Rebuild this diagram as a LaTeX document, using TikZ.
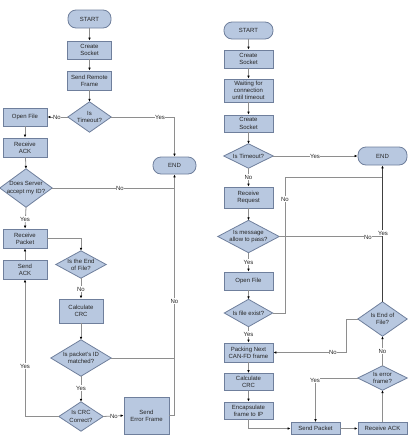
\documentclass[tikz,border=0pt]{standalone}
\usepackage{fontspec}
\setmainfont{Liberation Sans}
\usetikzlibrary{arrows.meta}
\definecolor{boxfill}{HTML}{B8C8E0}
\definecolor{boxline}{HTML}{6F7F9C}
\definecolor{connc}{HTML}{8E8E8E}
\tikzset{
  txt/.style={font=\fontsize{6}{7.2}\selectfont, text=black!85, align=center, inner sep=0pt},
  proc/.style={txt, draw=boxline, fill=boxfill, line width=0.8pt},
  term/.style={proc, rounded corners=8pt},
  dbase/.style={inner sep=0pt},
  dshape/.style={draw=boxline, fill=boxfill, line width=0.8pt},
  ln/.style={draw=connc, line width=0.8pt},
  arr/.style={ln, -{Latex[length=3pt,width=2.6pt,color=black]}},
  lab/.style={txt, fill=white, inner sep=0.6pt},
}
\newcommand\decision[5]{%
  \node[dbase, minimum width=#3pt, minimum height=#4pt] (#1) at (#2) {};
  \draw[dshape] (#1.north) -- (#1.east) -- (#1.south) -- (#1.west) -- cycle;
  \node[txt] (#1-t) at (#1.center) {#5};}
\begin{document}
\begin{tikzpicture}[x=1pt, y=-1pt]
\useasboundingbox (0,0) rectangle (411,445);
% ---------------- left chart ----------------
\node[term, minimum width=43pt, minimum height=18pt] (startL) at (89.5,19) {START};
\node[proc, minimum width=44pt, minimum height=18pt] (csL) at (89.5,50) {Create\\Socket};
\node[proc, minimum width=44pt, minimum height=19pt] (srf) at (89.5,80.5) {Send Remote\\Frame};
\decision{toL}{89.5,117}{43}{30}{Is\\Timeout?}
\node[proc, minimum width=44pt, minimum height=18pt] (openL) at (25,117) {Open File};
\node[proc, minimum width=44pt, minimum height=19pt] (rackL) at (25,147.5) {Receive\\ACK};
\node[term, minimum width=43pt, minimum height=17pt] (endL) at (174.5,165.5) {END};
\decision{dsL}{26,188}{52}{38}{Does Server\\accept my ID?}
\node[proc, minimum width=44pt, minimum height=19pt] (rpL) at (25,238.5) {Receive\\Packet};
\node[proc, minimum width=44pt, minimum height=19pt] (sackL) at (25,269.5) {Send\\ACK};
\decision{eofL}{81,264.5}{50}{27}{Is the End\\of File?}
\node[proc, minimum width=44pt, minimum height=24pt] (calcL) at (81,311) {Calculate\\CRC};
\decision{pidL}{81,358}{60}{36}{Is packet's ID\\matched?}
\decision{crcL}{81,416.5}{44}{29}{Is CRC\\Correct?}
\node[proc, minimum width=45pt, minimum height=37pt] (sefL) at (146.5,415.5) {Send\\Error Frame};

\draw[arr] (startL) -- (csL);
\draw[arr] (csL) -- (srf);
\draw[arr] (srf) -- (toL.north);
\draw[arr] (toL.west) -- (openL.east);
\draw[arr] (toL.east) -| (endL.north);
\draw[arr] (openL) -- (rackL);
\draw[arr] (rackL) -- (dsL.north);
\draw[ln] (dsL.east) -- (endL.south |- dsL.east);
\draw[arr] (dsL.south) -- (rpL.north);
\draw[arr] (rpL.east) -| (eofL.north);
\draw[arr] (eofL.south) -- (calcL.north);
\draw[arr] (sackL.north) -- (rpL.south);
\draw[arr] (calcL) -- (pidL.north);
\draw[ln] (pidL.east) -- (endL.south |- pidL.east);
\draw[arr] (pidL.south) -- (crcL.north);
\draw[arr] (crcL.east) -- (sefL.west);
\draw[arr] (crcL.west) -| (sackL.south);
\draw[arr] (sefL.east) -| (endL.south);

\node[lab] (l1) at (57,117) {No};
\node[lab] (l2) at (160,117) {Yes};
\node[lab] (l3) at (120,188) {No};
\node[lab] (l4) at (25,219) {Yes};
\node[lab] (l5) at (81,289) {No};
\node[lab] (l6) at (25,366) {Yes};
\node[lab] (l7) at (174.5,301) {No};
\node[lab] (l8) at (81,388) {Yes};
\node[lab] (l9) at (114,416.5) {No};

% ---------------- right chart ----------------
\node[term, minimum width=49pt, minimum height=17pt] (startR) at (248.5,30.5) {START};
\node[proc, minimum width=49pt, minimum height=18pt] (cs1R) at (248.5,59) {Create\\Socket};
\node[proc, minimum width=49pt, minimum height=23pt] (waitR) at (248.5,90.5) {Waiting for\\connection\\until timeout};
\node[proc, minimum width=49pt, minimum height=17pt] (cs2R) at (248.5,123.5) {Create\\Socket};
\decision{toR}{248.5,156}{49}{24}{Is Timeout?}
\node[term, minimum width=49pt, minimum height=18pt] (endR) at (382.5,156) {END};
\node[proc, minimum width=49pt, minimum height=21pt] (rrR) at (248.5,197.5) {Receive\\Request};
\decision{msgR}{248.5,236.5}{61}{32}{Is message\\allow to pass?}
\node[proc, minimum width=49pt, minimum height=18pt] (ofR) at (248.5,281) {Open File};
\decision{fexR}{248.5,313}{48}{27}{Is file exist?}
\node[proc, minimum width=49pt, minimum height=19pt] (packR) at (248.5,352.5) {Packing Next\\CAN-FD frame};
\node[proc, minimum width=49pt, minimum height=17pt] (calcR) at (248.5,382) {Calculate\\CRC};
\node[proc, minimum width=49pt, minimum height=17pt] (encR) at (248.5,410.5) {Encapsulate\\frame to IP};
\node[proc, minimum width=49pt, minimum height=12pt] (spR) at (315.5,428.5) {Send Packet};
\node[proc, minimum width=49pt, minimum height=12pt] (raR) at (382.5,428.5) {Receive ACK};
\decision{erR}{382.5,378}{49}{24}{Is error\\frame?}
\decision{eofR}{382.5,319}{49}{34}{Is End of\\File?}
\coordinate (vR) at (285,177);
\coordinate (bR) at (346,319);

\draw[arr] (startR) -- (cs1R);
\draw[arr] (cs1R) -- (waitR);
\draw[arr] (waitR) -- (cs2R);
\draw[arr] (cs2R) -- (toR.north);
\draw[arr] (toR.east) -- (endR.west);
\draw[arr] (toR.south) -- (rrR.north);
\draw[arr] (rrR) -- (msgR.north);
\draw[arr] (msgR.south) -- (ofR.north);
\draw[arr] (ofR) -- (fexR.north);
\draw[arr] (fexR.south) -- (packR.north);
\draw[ln] (fexR.east) -| (vR) -- (endR.south |- vR);
\draw[ln] (msgR.east) -- (endR.south |- msgR.east);
\draw[arr, draw=black!75] (eofR.north) -- (endR.south);
\draw[arr] (eofR.west) -- (bR) |- (packR.east);
\draw[arr] (packR) -- (calcR);
\draw[arr] (calcR) -- (encR);
\draw[arr] (encR.south) |- (spR.west);
\draw[arr] (spR) -- (raR);
\draw[arr] (raR.north) -- (erR.south);
\draw[arr] (erR.north) -- (eofR.south);
\draw[arr] (erR.west) -| (spR.north);

\node[lab] (r1) at (315,156) {Yes};
\node[lab] (r2) at (248.5,177) {No};
\node[lab] (r3) at (285,199) {No};
\node[lab] (r4) at (248.5,262) {Yes};
\node[lab] (r5) at (368,237) {No};
\node[lab] (r6) at (383,233) {Yes};
\node[lab] (r7) at (248.5,334) {Yes};
\node[lab] (r8) at (333,352.5) {No};
\node[lab] (r9) at (382.5,351) {No};
\node[lab] (r10) at (315,380) {Yes};
\end{tikzpicture}
\end{document}
